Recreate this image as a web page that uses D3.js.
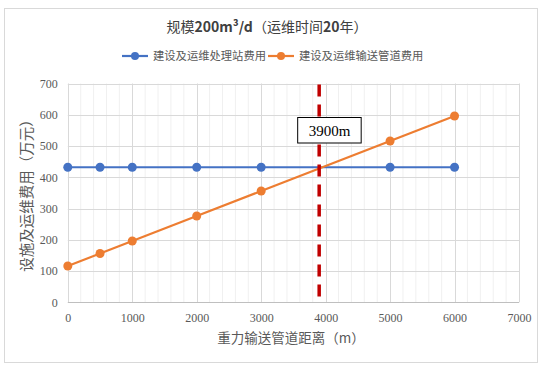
<!DOCTYPE html>
<html><head><meta charset="utf-8">
<script src="https://cdn.jsdelivr.net/npm/d3@7"></script>
<style>body{margin:0;background:#fff}svg{display:block}</style>
</head><body><svg id="c" width="542" height="371"></svg>
<script>
const distances = [0, 500, 1000, 2000, 3000, 5000, 6000];
const stationCost = [432, 432, 432, 432, 432, 432, 432];
const pipeCost = [116, 156, 196, 276, 356, 516, 596];
const seriesNames = ["建设及运维处理站费用", "建设及运维输送管道费用"];
const seriesColors = ["#4472C4", "#ED7D31"];
const xTicks = [0, 1000, 2000, 3000, 4000, 5000, 6000, 7000];
const yTicks = [0, 100, 200, 300, 400, 500, 600, 700];
const markerX = 3900;
const markerLabel = "3900m";
const title = ["规模", "200m³/d", "（运维时间", "20", "年）"];
const xTitle = "重力输送管道距离（m）";
const yTitle = "设施及运维费用（万元）";

const svg = d3.select("#c");
const serif = "'Liberation Serif','Times New Roman','Noto Sans CJK SC',serif";
const cjk = "'Noto Sans CJK SC','Noto Sans',sans-serif";

svg.append("rect").attr("x",4.5).attr("y",8.5).attr("width",533).attr("height",354)
  .attr("fill","#fff").attr("stroke","#d9d9d9");

const x = d3.scaleLinear().domain([0,7000]).range([67.8,519]);
const y = d3.scaleLinear().domain([0,700]).range([302.3,83.5]);

// minor vertical grid
const minor = d3.range(200,7000,200).filter(v=>v%1000!==0);
svg.append("g").selectAll("line").data(minor).join("line")
  .attr("x1",d=>x(d)).attr("x2",d=>x(d)).attr("y1",y(0)).attr("y2",y(700))
  .attr("stroke","#f0f0f0").attr("stroke-width",1);
// major grid
svg.append("g").selectAll("line").data(xTicks).join("line")
  .attr("x1",d=>Math.round(x(d))+0.5).attr("x2",d=>Math.round(x(d))+0.5).attr("y1",y(0)).attr("y2",y(700))
  .attr("stroke","#d9d9d9");
svg.append("g").selectAll("line").data(yTicks).join("line")
  .attr("x1",x(0)).attr("x2",x(7000)).attr("y1",d=>Math.round(y(d))+0.5).attr("y2",d=>Math.round(y(d))+0.5)
  .attr("stroke",d=>d===0?"#bfbfbf":"#d9d9d9");

// axes via d3
const xAxis = d3.axisBottom(x).tickValues(xTicks).tickSize(0).tickPadding(11).tickFormat(d3.format("d"));
const gx = svg.append("g").attr("transform",`translate(0,${y(0)})`).call(xAxis);
gx.select(".domain").remove();
gx.selectAll("text").attr("font-family",serif).attr("font-size",12).attr("fill","#595959");
const yAxis = d3.axisLeft(y).tickValues(yTicks).tickSize(0).tickPadding(10).tickFormat(d3.format("d"));
const gy = svg.append("g").attr("transform",`translate(${x(0)},0)`).call(yAxis);
gy.select(".domain").remove();
gy.selectAll("text").attr("font-family",serif).attr("font-size",12).attr("fill","#595959");

// series
const data = [stationCost, pipeCost];
const line = d3.line().x((d,i)=>x(distances[i])).y(d=>y(d));
data.forEach((vals,k)=>{
  svg.append("path").datum(vals).attr("d",line).attr("fill","none")
    .attr("stroke",seriesColors[k]).attr("stroke-width",2.2);
  svg.append("g").selectAll("circle").data(vals).join("circle")
    .attr("cx",(d,i)=>x(distances[i])).attr("cy",d=>y(d)).attr("r",4.5)
    .attr("fill",seriesColors[k]);
});

// marker dashed line
svg.append("line").attr("x1",x(markerX)).attr("x2",x(markerX)).attr("y1",y(700)+1).attr("y2",y(0))
  .attr("stroke","#C00000").attr("stroke-width",3.5).attr("stroke-dasharray","12,8");
const bx = x(markerX);
svg.append("rect").attr("x",bx-21.5).attr("y",117.5).attr("width",63.5).attr("height",25.5)
  .attr("fill","#fff").attr("stroke","#000").attr("stroke-width",1);
svg.append("text").attr("x",bx+10.3).attr("y",135.5).attr("text-anchor","middle")
  .attr("font-family",serif).attr("font-size",15).attr("fill","#000").text(markerLabel);

// title
const t = svg.append("text").attr("x",267).attr("y",32).attr("text-anchor","middle")
  .attr("font-family",cjk).attr("font-size",14).attr("fill","#404040");
title.forEach((s,i)=>{
  t.append("tspan").attr("font-weight",(i===1||i===3)?"bold":"normal").text(s);
});

// legend
const legX = [122, 268];
seriesNames.forEach((n,k)=>{
  const g = svg.append("g").attr("transform",`translate(${legX[k]},56)`);
  g.append("line").attr("x1",0).attr("x2",26).attr("y1",0).attr("y2",0)
    .attr("stroke",seriesColors[k]).attr("stroke-width",2.2);
  g.append("circle").attr("cx",13).attr("cy",0).attr("r",4).attr("fill",seriesColors[k]);
  g.append("text").attr("x",31).attr("y",4.2).attr("font-family",cjk).attr("font-size",11.3)
    .attr("fill","#595959").text(n);
});

// axis titles
svg.append("text").attr("x",291).attr("y",343).attr("text-anchor","middle")
  .attr("font-family",cjk).attr("font-size",13.5).attr("fill","#595959").text(xTitle);
svg.append("text").attr("transform","translate(32,192) rotate(-90)").attr("text-anchor","middle")
  .attr("font-family",cjk).attr("font-size",14.5).attr("fill","#595959").text(yTitle);
</script></body></html>
